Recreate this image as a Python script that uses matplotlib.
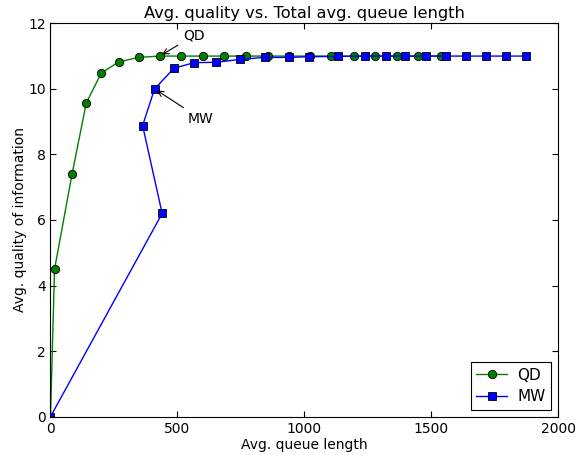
import matplotlib
matplotlib.use("Agg")
import matplotlib.pyplot as plt

qd_x = [0, 16, 85, 141, 200, 268, 347, 430, 515, 599, 684, 770, 857, 939, 1022,
        1104, 1195, 1277, 1367, 1447, 1537]
qd_y = [0, 4.5, 7.4, 9.57, 10.48, 10.82, 10.96, 11.0, 11.0, 11.0, 11.0, 11.0,
        11.0, 11.0, 11.0, 11.0, 11.0, 11.0, 11.0, 11.0, 11.0]

mw_x = [0, 440, 363, 410, 487, 566, 654, 747, 844, 939, 1019, 1133, 1241, 1320,
        1398, 1478, 1557, 1637, 1716, 1794, 1875]
mw_y = [0, 6.2, 8.88, 10.0, 10.63, 10.8, 10.81, 10.9, 10.96, 10.96, 10.98, 10.99,
        11.0, 11.0, 11.0, 11.0, 11.0, 11.0, 11.0, 11.0, 11.0]

xticks = [0, 500, 1000, 1500, 2000]
yticks = [0, 2, 4, 6, 8, 10, 12]

fig = plt.figure(figsize=(5.85, 4.55), dpi=100)
ax = fig.add_axes([0.0863, 0.0842, 0.8677, 0.8646])

ax.plot(qd_x, qd_y, color='g', marker='o', markersize=6, markeredgecolor='k',
        markeredgewidth=0.6, linewidth=1, label='QD')
ax.plot(mw_x, mw_y, color='b', marker='s', markersize=6, markeredgecolor='k',
        markeredgewidth=0.6, linewidth=1, label='MW')

ax.annotate('QD', xy=(qd_x[7], qd_y[7]), xytext=(522, 11.5),
            arrowprops=dict(arrowstyle='->', color='k', lw=0.8), fontsize=10)
ax.annotate('MW', xy=(mw_x[3], mw_y[3]), xytext=(542, 8.96),
            arrowprops=dict(arrowstyle='->', color='k', lw=0.8), fontsize=10)

ax.set_xlim(0, 2000)
ax.set_ylim(0, 12)
ax.set_xticks(xticks)
ax.set_yticks(yticks)
ax.tick_params(direction='in', top=True, right=True, labelsize=10, length=4)

ax.set_title('Avg. quality vs. Total avg. queue length', fontsize=11.7, pad=4)
ax.set_xlabel('Avg. queue length', fontsize=10, labelpad=2)
ax.set_ylabel('Avg. quality of information', fontsize=10, labelpad=1)

leg = ax.legend(loc='lower right', fontsize=11, fancybox=False, framealpha=1,
                edgecolor='k', borderaxespad=0.45, handlelength=2.0,
                handletextpad=0.7, borderpad=0.35, labelspacing=0.45)
leg.get_frame().set_linewidth(0.8)

fig.savefig('out.png', dpi=100)
